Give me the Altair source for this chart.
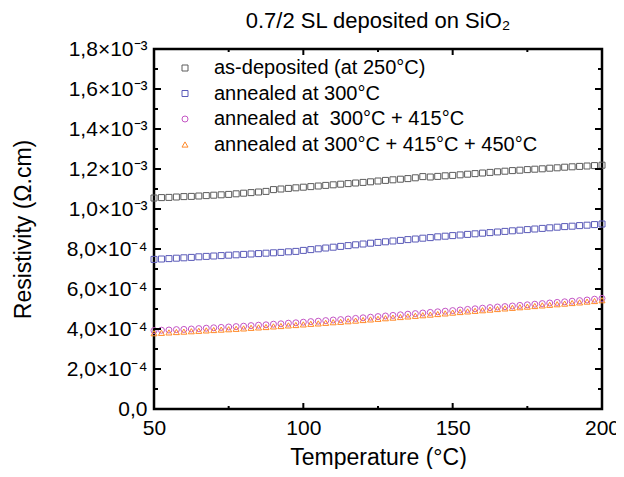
import json
import altair as alt
import pandas as pd

# ---------------- data ----------------
temps = [50.0, 52.5, 55.0, 57.5, 60.0, 62.5, 65.0, 67.5, 70.0, 72.5,
         75.0, 77.5, 80.0, 82.5, 85.0, 87.5, 90.0, 92.5, 95.0, 97.5,
         100.0, 102.5, 105.0, 107.5, 110.0, 112.5, 115.0, 117.5, 120.0, 122.5,
         125.0, 127.5, 130.0, 132.5, 135.0, 137.5, 140.0, 142.5, 145.0, 147.5,
         150.0, 152.5, 155.0, 157.5, 160.0, 162.5, 165.0, 167.5, 170.0, 172.5,
         175.0, 177.5, 180.0, 182.5, 185.0, 187.5, 190.0, 192.5, 195.0, 197.5,
         200.0]

# resistivity in units of 1e-3 Ohm.cm
as_dep = [1.055, 1.057, 1.058, 1.060, 1.062, 1.063, 1.065, 1.067, 1.069, 1.071,
          1.073, 1.076, 1.079, 1.082, 1.085, 1.088, 1.097, 1.100, 1.103, 1.106,
          1.109, 1.112, 1.115, 1.118, 1.121, 1.124, 1.127, 1.130, 1.133, 1.136,
          1.140, 1.143, 1.146, 1.149, 1.152, 1.156, 1.162, 1.160, 1.163, 1.166,
          1.168, 1.171, 1.174, 1.177, 1.180, 1.183, 1.186, 1.189, 1.192, 1.194,
          1.197, 1.199, 1.201, 1.204, 1.206, 1.209, 1.211, 1.213, 1.215, 1.217,
          1.219]

ann300 = [0.748, 0.750, 0.752, 0.754, 0.756, 0.758, 0.761, 0.763, 0.765, 0.767,
          0.769, 0.771, 0.773, 0.775, 0.777, 0.779, 0.781, 0.783, 0.786, 0.788,
          0.793, 0.797, 0.801, 0.805, 0.809, 0.813, 0.817, 0.821, 0.825, 0.829,
          0.833, 0.836, 0.840, 0.843, 0.847, 0.850, 0.854, 0.857, 0.861, 0.864,
          0.867, 0.870, 0.873, 0.876, 0.879, 0.882, 0.885, 0.888, 0.891, 0.894,
          0.897, 0.900, 0.903, 0.906, 0.909, 0.912, 0.914, 0.917, 0.919, 0.922,
          0.925]

ann415 = [0.392, 0.394, 0.395, 0.397, 0.398, 0.400, 0.402, 0.404, 0.406, 0.408,
          0.410, 0.412, 0.414, 0.417, 0.419, 0.421, 0.424, 0.426, 0.429, 0.431,
          0.434, 0.437, 0.439, 0.442, 0.445, 0.447, 0.450, 0.453, 0.456, 0.459,
          0.462, 0.465, 0.468, 0.471, 0.474, 0.477, 0.480, 0.483, 0.486, 0.489,
          0.492, 0.495, 0.498, 0.501, 0.504, 0.507, 0.510, 0.512, 0.515, 0.518,
          0.521, 0.524, 0.527, 0.530, 0.533, 0.536, 0.539, 0.542, 0.545, 0.549,
          0.553]

ann450 = [0.379, 0.381, 0.383, 0.385, 0.387, 0.389, 0.391, 0.393, 0.395, 0.397,
          0.399, 0.401, 0.403, 0.406, 0.408, 0.410, 0.413, 0.415, 0.418, 0.420,
          0.423, 0.426, 0.428, 0.431, 0.434, 0.436, 0.439, 0.442, 0.445, 0.448,
          0.451, 0.454, 0.457, 0.460, 0.463, 0.466, 0.469, 0.472, 0.475, 0.478,
          0.482, 0.485, 0.488, 0.491, 0.494, 0.497, 0.500, 0.503, 0.506, 0.509,
          0.512, 0.515, 0.518, 0.521, 0.524, 0.527, 0.530, 0.533, 0.537, 0.540,
          0.544]

series_names = ["as-deposited (at 250°C)",
                "annealed at 300°C",
                "annealed at\u00a0 300°C + 415°C",
                "annealed at 300°C + 415°C + 450°C"]
series_values = [as_dep, ann300, ann415, ann450]
series_colors = ["#5c5c5c", "#5a5ab8", "#c455c4", "#ff8a2a"]
series_shapes = ["square", "square", "circle", "triangle-up"]
series_sizes = [36, 36, 60, 55]

x_major = [50, 100, 150, 200]
x_minor = [75, 125, 175]
y_major = [0.0, 0.2, 0.4, 0.6, 0.8, 1.0, 1.2, 1.4, 1.6, 1.8]
y_minor = [0.1, 0.3, 0.5, 0.7, 0.9, 1.1, 1.3, 1.5, 1.7]
y_labels = ["0,0", "2,0×10⁻⁴", "4,0×10⁻⁴", "6,0×10⁻⁴", "8,0×10⁻⁴",
            "1,0×10⁻³", "1,2×10⁻³", "1,4×10⁻³", "1,6×10⁻³", "1,8×10⁻³"]

title_text = "0.7/2 SL deposited on SiO₂"
x_title = "Temperature (°C)"
y_title = "Resistivity (Ω.cm)"

# ---------------- build ----------------
rows = []
for name, vals in zip(series_names, series_values):
    for t, v in zip(temps, vals):
        rows.append({"T": t, "rho": v, "series": name})
df = pd.DataFrame(rows)

FONT = "Liberation Sans"
W, H = 448, 360
xs = alt.Scale(domain=[50, 200], nice=False, zero=False)
ys = alt.Scale(domain=[0, 1.8], nice=False, zero=False)

label_expr = json.dumps(y_labels, ensure_ascii=False) + "[round(datum.value / 0.2)]"

x_axis = alt.Axis(
    values=x_major, title=x_title, ticks=False, domain=False, grid=False,
    labelFont=FONT, labelFontSize=21, labelColor="black", labelPadding=8,
    labelFlush=False, titleFont=FONT, titleFontSize=23, titleFontWeight="normal",
    titleColor="black", titlePadding=8)
y_axis = alt.Axis(
    values=y_major, labelExpr=label_expr, title=y_title, ticks=False,
    domain=False, grid=False, labelFont=FONT, labelFontSize=21,
    labelColor="black", labelPadding=7, labelFlush=False, titleFont=FONT,
    titleFontSize=23, titleFontWeight="normal", titleColor="black",
    titlePadding=31)

legend = alt.Legend(
    title=None, orient="none", legendX=21, legendY=9, padding=0,
    labelFont=FONT, labelFontSize=20, labelColor="black", labelLimit=0,
    rowPadding=5.5, labelOffset=19, symbolStrokeWidth=1,
)

points = alt.Chart(df).mark_point(filled=False, strokeWidth=1, opacity=1).encode(
    x=alt.X("T:Q", scale=xs, axis=x_axis),
    y=alt.Y("rho:Q", scale=ys, axis=y_axis),
    color=alt.Color("series:N", scale=alt.Scale(domain=series_names, range=series_colors), legend=legend),
    shape=alt.Shape("series:N", scale=alt.Scale(domain=series_names, range=series_shapes), legend=legend),
    size=alt.Size("series:N", scale=alt.Scale(domain=series_names, range=series_sizes), legend=legend),
)


def xticks(vals, length):
    d = pd.DataFrame({"T": vals})
    base = alt.Chart(d).mark_rule(color="black", strokeWidth=2)
    bottom = base.encode(x=alt.X("T:Q", scale=xs, axis=x_axis), y=alt.value(H), y2=alt.value(H - length))
    top = base.encode(x=alt.X("T:Q", scale=xs, axis=x_axis), y=alt.value(0), y2=alt.value(length))
    return [bottom, top]


def yticks(vals, length):
    d = pd.DataFrame({"rho": vals})
    base = alt.Chart(d).mark_rule(color="black", strokeWidth=2)
    left = base.encode(y=alt.Y("rho:Q", scale=ys, axis=y_axis), x=alt.value(0), x2=alt.value(length))
    right = base.encode(y=alt.Y("rho:Q", scale=ys, axis=y_axis), x=alt.value(W), x2=alt.value(W - length))
    return [left, right]


tick_layers = xticks(x_major, 6) + xticks(x_minor, 3) + yticks(y_major, 7) + yticks(y_minor, 4)

chart = alt.layer(points, *tick_layers).properties(
    width=W, height=H,
    padding={"left": 146, "top": 41, "right": 14, "bottom": 60},
    autosize=alt.AutoSizeParams(type="none"),
    title=alt.Title(text=title_text, font=FONT, fontSize=22, fontWeight="normal",
                    color="black", anchor="middle", baseline="alphabetic", offset=18,
                    frame="group", dy=30),
).configure_view(stroke="black", strokeWidth=2.5)

chart.save("out.html", embed_options={"renderer": "svg", "actions": False})
